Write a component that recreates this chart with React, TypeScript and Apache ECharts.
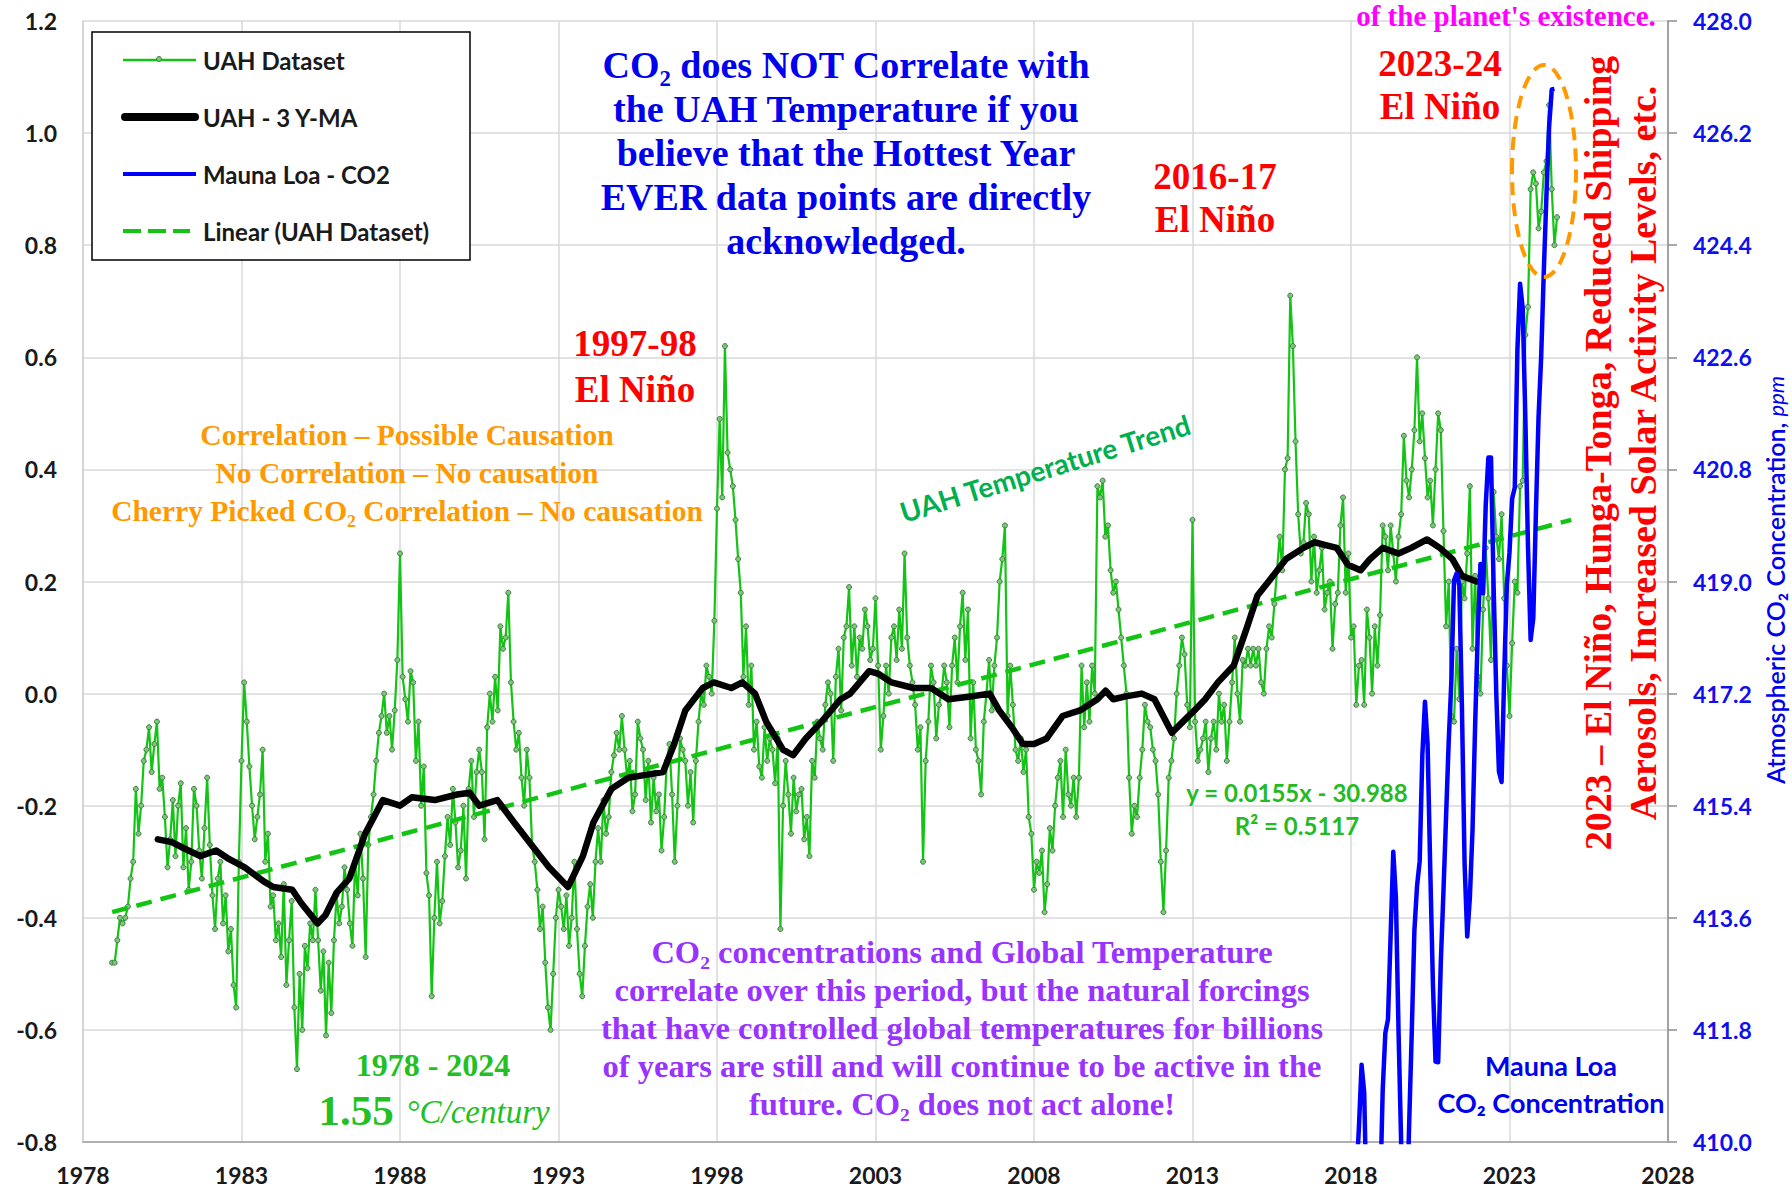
import React, { useEffect, useRef } from "react";
import * as echarts from "echarts";

// ---------- axes ----------
const xMin = 1978;
const xMax = 2028;
const xStep = 5;
const tMin = -0.8;
const tMax = 1.2;
const tStep = 0.2;
const cMin = 410;
const cMax = 428;
const cStep = 1.8;

// ---------- UAH monthly anomaly (Dec 1978 .. Jul 2024) ----------
const uahStart = 1978 + 11 / 12;
const uahMonthly = [
  -0.48,
  -0.48, -0.44, -0.40, -0.41, -0.40, -0.38, -0.33, -0.30, -0.17, -0.25, -0.20, -0.12, // 1979
  -0.10, -0.06, -0.14, -0.09, -0.05, -0.17, -0.15, -0.22, -0.31, -0.26, -0.19, -0.29, // 1980
  -0.20, -0.16, -0.31, -0.24, -0.35, -0.30, -0.17, -0.20, -0.28, -0.33, -0.24, -0.15, // 1981
  -0.27, -0.36, -0.42, -0.33, -0.30, -0.41, -0.36, -0.46, -0.42, -0.52, -0.56, -0.30, // 1982
  -0.12, 0.02, -0.05, -0.13, -0.20, -0.26, -0.22, -0.18, -0.10, -0.30, -0.25, -0.38, // 1983
  -0.36, -0.44, -0.41, -0.47, -0.34, -0.52, -0.44, -0.37, -0.56, -0.67, -0.50, -0.60, // 1984
  -0.45, -0.49, -0.41, -0.44, -0.35, -0.44, -0.53, -0.46, -0.61, -0.48, -0.57, -0.44, // 1985
  -0.36, -0.41, -0.38, -0.31, -0.35, -0.41, -0.45, -0.30, -0.36, -0.25, -0.33, -0.47, // 1986
  -0.27, -0.22, -0.18, -0.12, -0.07, -0.04, 0.00, -0.07, -0.04, -0.10, -0.03, 0.06, // 1987
  0.25, 0.03, -0.01, -0.05, 0.04, 0.02, -0.12, -0.05, -0.20, -0.13, -0.32, -0.36, // 1988
  -0.54, -0.40, -0.30, -0.41, -0.37, -0.29, -0.22, -0.27, -0.17, -0.23, -0.31, -0.28, // 1989
  -0.20, -0.33, -0.17, -0.12, -0.22, -0.14, -0.10, -0.14, -0.26, -0.06, 0.00, -0.05, // 1990
  0.03, -0.03, 0.12, 0.08, 0.10, 0.18, 0.02, -0.05, -0.10, -0.07, -0.15, -0.20, // 1991
  -0.10, -0.15, -0.27, -0.30, -0.35, -0.42, -0.38, -0.48, -0.56, -0.60, -0.50, -0.40, // 1992
  -0.35, -0.38, -0.42, -0.36, -0.45, -0.40, -0.30, -0.42, -0.50, -0.54, -0.45, -0.38, // 1993
  -0.34, -0.40, -0.30, -0.24, -0.30, -0.19, -0.25, -0.22, -0.14, -0.11, -0.07, -0.10, // 1994
  -0.04, -0.10, -0.15, -0.12, -0.21, -0.18, -0.05, -0.08, -0.10, -0.19, -0.12, -0.23, // 1995
  -0.15, -0.21, -0.18, -0.28, -0.22, -0.12, -0.09, -0.18, -0.30, -0.20, -0.08, -0.10, // 1996
  -0.12, -0.20, -0.14, -0.23, -0.12, -0.05, 0.00, -0.02, 0.05, 0.03, 0.00, 0.13, // 1997
  0.33, 0.49, 0.35, 0.62, 0.43, 0.40, 0.37, 0.31, 0.24, 0.18, 0.03, 0.12, // 1998
  -0.02, 0.05, -0.10, -0.05, -0.13, -0.15, -0.06, -0.12, -0.08, -0.10, -0.16, -0.08, // 1999
  -0.42, -0.20, -0.12, -0.18, -0.25, -0.15, -0.21, -0.18, -0.17, -0.26, -0.22, -0.29, // 2000
  -0.12, -0.15, -0.05, -0.08, -0.10, -0.02, 0.02, 0.00, -0.12, 0.03, 0.08, -0.03, // 2001
  0.10, 0.12, 0.19, 0.05, 0.12, 0.03, 0.10, 0.08, 0.15, 0.12, 0.06, 0.08, // 2002
  0.17, 0.05, -0.10, -0.04, 0.05, 0.00, 0.10, 0.12, 0.06, 0.15, 0.08, 0.25, // 2003
  0.10, 0.05, 0.02, -0.02, -0.10, -0.06, -0.30, -0.12, -0.05, 0.05, 0.02, -0.08, // 2004
  -0.02, 0.00, 0.05, 0.02, -0.06, 0.05, 0.10, 0.02, 0.12, 0.18, 0.06, 0.15, // 2005
  -0.08, 0.02, -0.10, -0.12, -0.18, -0.05, 0.00, 0.06, -0.03, 0.05, 0.10, 0.20, // 2006
  0.24, 0.30, -0.04, 0.05, -0.02, -0.10, -0.12, -0.08, -0.14, -0.10, -0.22, -0.25, // 2007
  -0.35, -0.30, -0.32, -0.28, -0.39, -0.34, -0.24, -0.28, -0.20, -0.15, -0.12, -0.22, // 2008
  -0.10, -0.18, -0.20, -0.15, -0.22, -0.15, 0.05, -0.06, 0.02, -0.05, 0.05, 0.00, // 2009
  0.37, 0.35, 0.38, 0.28, 0.30, 0.22, 0.18, 0.20, 0.15, 0.10, 0.05, 0.00, // 2010
  -0.15, -0.25, -0.20, -0.22, -0.15, -0.10, -0.02, -0.05, -0.06, -0.10, -0.12, -0.18, // 2011
  -0.30, -0.39, -0.28, -0.15, -0.12, -0.08, 0.00, 0.05, 0.10, 0.07, -0.02, -0.06, // 2012
  0.31, -0.05, -0.12, -0.10, -0.08, -0.05, -0.14, -0.08, -0.05, -0.10, 0.00, -0.05, // 2013
  -0.02, -0.12, -0.05, 0.02, 0.10, 0.00, -0.05, 0.06, 0.05, 0.08, 0.05, 0.08, // 2014
  0.05, 0.08, 0.02, 0.00, 0.08, 0.12, 0.10, 0.16, 0.22, 0.28, 0.22, 0.40, // 2015
  0.42, 0.71, 0.62, 0.45, 0.32, 0.25, 0.27, 0.34, 0.32, 0.20, 0.28, 0.18, // 2016
  0.22, 0.26, 0.15, 0.18, 0.20, 0.08, 0.16, 0.18, 0.30, 0.35, 0.18, 0.25, // 2017
  0.10, 0.12, -0.02, 0.05, 0.06, -0.02, 0.15, 0.10, 0.00, 0.12, 0.05, 0.14, // 2018
  0.30, 0.28, 0.22, 0.30, 0.25, 0.20, 0.28, 0.32, 0.46, 0.38, 0.35, 0.40, // 2019
  0.47, 0.60, 0.45, 0.50, 0.42, 0.35, 0.38, 0.30, 0.40, 0.50, 0.47, 0.29, // 2020
  0.12, 0.20, -0.04, -0.05, 0.08, -0.01, 0.20, 0.17, 0.25, 0.37, 0.08, 0.21, // 2021
  0.03, 0.00, 0.15, 0.26, 0.17, 0.06, 0.36, 0.28, 0.24, 0.32, 0.17, 0.05, // 2022
  -0.04, 0.09, 0.20, 0.18, 0.37, 0.38, 0.64, 0.69, 0.90, 0.93, 0.91, 0.83, // 2023
  0.86, 0.93, 0.95, 1.05, 0.90, 0.80, 0.85, // 2024
];

// ---------- UAH 3-year moving average ----------
const maYears = [
  1980.36, 1980.8, 1981.15, 1981.7, 1982.2, 1982.6, 1983.1, 1983.7, 1984.0, 1984.6,
  1984.9, 1985.4, 1985.65, 1986.0, 1986.4, 1986.9, 1987.46, 1988.0, 1988.37, 1989.1,
  1989.8, 1990.2, 1990.5, 1991.07, 1991.6, 1992.15, 1992.7, 1993.3, 1993.77, 1994.1,
  1994.67, 1995.2, 1995.75, 1996.3, 1996.65, 1997.0, 1997.55, 1997.9, 1998.45, 1998.8,
  1999.2, 1999.55, 2000.08, 2000.4, 2000.8, 2001.3, 2001.9, 2002.2, 2002.8, 2003.1,
  2003.5, 2004.2, 2004.75, 2005.3, 2006.0, 2006.6, 2006.9, 2007.3, 2007.65, 2008.0,
  2008.4, 2008.9, 2009.45, 2010.0, 2010.26, 2010.5, 2010.9, 2011.4, 2011.8, 2012.35,
  2012.7, 2013.06, 2013.4, 2013.8, 2014.3, 2014.7, 2015.05, 2015.4, 2015.95, 2016.5,
  2016.85, 2017.2, 2017.55, 2017.9, 2018.3, 2018.6, 2019.0, 2019.5, 2019.9, 2020.4,
  2020.8, 2021.2, 2021.5, 2021.96,
];
const maValues = [
  -0.26, -0.265, -0.275, -0.29, -0.28, -0.295, -0.31, -0.335, -0.345, -0.35,
  -0.375, -0.41, -0.395, -0.355, -0.33, -0.25, -0.19, -0.2, -0.185, -0.19,
  -0.18, -0.177, -0.2, -0.19, -0.23, -0.27, -0.31, -0.345, -0.29, -0.23,
  -0.17, -0.15, -0.145, -0.14, -0.09, -0.03, 0.01, 0.02, 0.01, 0.02,
  0.0, -0.05, -0.1, -0.11, -0.08, -0.05, -0.01, 0.0, 0.04, 0.035,
  0.02, 0.01, 0.01, -0.01, -0.005, 0.0, -0.03, -0.06, -0.09, -0.09,
  -0.08, -0.04, -0.03, -0.01, 0.005, -0.01, -0.005, 0.0, -0.01, -0.07,
  -0.05, -0.03, -0.01, 0.02, 0.05, 0.115, 0.175, 0.2, 0.24, 0.26,
  0.27, 0.265, 0.26, 0.23, 0.22, 0.24, 0.26, 0.25, 0.26, 0.275,
  0.26, 0.24, 0.21, 0.2,
];

// ---------- Mauna Loa monthly CO2 (Jan 2018 .. Jun 2024) ----------
const co2Start = 2018;
const co2Monthly = [
  407.96, 408.32, 409.41, 410.24, 411.24, 410.79, 408.71, 406.99, 405.51, 405.95, 408.02, 409.07, // 2018
  410.83, 411.75, 411.97, 413.32, 414.66, 413.92, 411.77, 409.95, 408.54, 408.53, 410.27, 411.76, // 2019
  413.4, 414.11, 414.51, 416.21, 417.07, 416.38, 414.38, 412.55, 411.29, 411.28, 412.89, 414.02, // 2020
  415.24, 416.45, 417.41, 419.02, 419.13, 418.94, 416.96, 414.47, 413.3, 413.93, 415.01, 416.71, // 2021
  418.19, 419.28, 418.81, 420.23, 420.99, 420.99, 418.9, 417.19, 415.95, 415.78, 417.51, 418.95, // 2022
  419.47, 420.33, 420.51, 422.73, 423.78, 423.39, 421.62, 419.56, 418.06, 418.41, 420.11, 421.65, // 2023
  422.62, 424.0, 425.22, 426.31, 426.9, 426.91, // 2024
];

// ---------- Linear trend endpoints ----------
const trendYears = [1978.92, 2024.95];
const trendValues = [-0.39, 0.31];

const legendNames = ["UAH Dataset", "UAH - 3 Y-MA", "Mauna Loa - CO2", "Linear (UAH Dataset)"];

const SERIF = '"Liberation Serif", "Times New Roman", serif';
const SANS = 'Lato, "Open Sans", sans-serif';

export default function App() {
  const ref = useRef<HTMLDivElement>(null);

  useEffect(() => {
    if (!ref.current) return;
    const chart = echarts.init(ref.current, null, { renderer: "svg" });

    const uahData = uahMonthly.map((v, i) => [uahStart + i / 12, v]);
    const maData = maYears.map((y, i) => [y, maValues[i]]);
    const co2Data = co2Monthly.map((v, i) => [co2Start + i / 12, v]);
    const trendData = trendYears.map((y, i) => [y, trendValues[i]]);

    const legendRows = [60, 117, 174, 231];
    const lx1 = 123;
    const lx2 = 196;

    const serifText = (
      text: string,
      x: number,
      y: number,
      fill: string,
      fontSize: number,
      lineHeight?: number,
      extra: any = {}
    ) => ({
      type: "text",
      x,
      y,
      z: 50,
      style: {
        text,
        fill,
        fontFamily: SERIF,
        fontWeight: "bold",
        fontSize,
        lineHeight: lineHeight || fontSize * 1.2,
        align: "center",
        verticalAlign: "middle",
        ...extra,
      },
    });

    const option: any = {
      animation: false,
      backgroundColor: "#ffffff",
      grid: { left: 83, right: 124, top: 21, bottom: 55, containLabel: false },
      xAxis: {
        type: "value",
        min: xMin,
        max: xMax,
        interval: xStep,
        axisLine: { show: true, onZero: false, lineStyle: { color: "#b0b0b0", width: 2 } },
        axisTick: { show: false },
        axisLabel: {
          margin: 21,
          color: "#1a1a1a",
          fontFamily: SANS,
          fontWeight: "bold",
          fontSize: 23,
          formatter: (v: number) => String(Math.round(v)),
        },
        splitLine: { show: true, lineStyle: { color: "#d9d9d9", width: 1.5 } },
      },
      yAxis: [
        {
          type: "value",
          min: tMin,
          max: tMax,
          interval: tStep,
          position: "left",
          axisLine: { show: true, onZero: false, lineStyle: { color: "#d0d0d0", width: 1.5 } },
          axisTick: { show: false },
          axisLabel: {
            margin: 26,
            color: "#1a1a1a",
            fontFamily: SANS,
            fontWeight: "bold",
            fontSize: 23,
            formatter: (v: number) => v.toFixed(1),
          },
          splitLine: { show: true, lineStyle: { color: "#d9d9d9", width: 1.5 } },
        },
        {
          type: "value",
          min: cMin,
          max: cMax,
          interval: cStep,
          position: "right",
          axisLine: { show: true, onZero: false, lineStyle: { color: "#8c8c8c", width: 1.5 } },
          axisTick: { show: true, length: 9, lineStyle: { color: "#8c8c8c", width: 1.5 } },
          axisLabel: {
            margin: 25,
            color: "#1010ee",
            fontFamily: SANS,
            fontWeight: "bold",
            fontSize: 23,
            formatter: (v: number) => v.toFixed(1),
          },
          splitLine: { show: false },
        },
      ],
      series: [
        {
          name: legendNames[0],
          type: "line",
          data: uahData,
          yAxisIndex: 0,
          showSymbol: true,
          showAllSymbol: true,
          symbol: "circle",
          symbolSize: 5,
          itemStyle: { color: "#7cc67c", borderColor: "#3c7f3c", borderWidth: 1 },
          lineStyle: { color: "#14c414", width: 2.2 },
          z: 2,
        },
        {
          name: legendNames[3],
          type: "line",
          data: trendData,
          yAxisIndex: 0,
          showSymbol: false,
          lineStyle: { color: "#14c414", width: 4.5, type: [16, 9] },
          z: 3,
        },
        {
          name: legendNames[1],
          type: "line",
          data: maData,
          yAxisIndex: 0,
          showSymbol: false,
          lineStyle: { color: "#000000", width: 6.5, cap: "round", join: "round" },
          z: 4,
        },
        {
          name: legendNames[2],
          type: "line",
          data: co2Data,
          yAxisIndex: 1,
          showSymbol: false,
          clip: true,
          lineStyle: { color: "#0000ff", width: 4.5, join: "round" },
          z: 5,
        },
      ],
      graphic: [
        // legend box
        {
          type: "rect",
          z: 60,
          shape: { x: 92, y: 32, width: 378, height: 228 },
          style: { fill: "#ffffff", stroke: "#000000", lineWidth: 1.5 },
        },
        {
          type: "line",
          z: 61,
          shape: { x1: lx1, y1: legendRows[0], x2: lx2, y2: legendRows[0] },
          style: { stroke: "#14c414", lineWidth: 2.5 },
        },
        {
          type: "circle",
          z: 62,
          shape: { cx: 159, cy: legendRows[0] - 1, r: 2.5 },
          style: { fill: "#7cc67c", stroke: "#3c7f3c", lineWidth: 1 },
        },
        {
          type: "line",
          z: 61,
          shape: { x1: lx1 + 2, y1: legendRows[1], x2: lx2 - 1, y2: legendRows[1] },
          style: { stroke: "#000000", lineWidth: 8, lineCap: "round" },
        },
        {
          type: "line",
          z: 61,
          shape: { x1: lx1, y1: legendRows[2], x2: lx2, y2: legendRows[2] },
          style: { stroke: "#0000ff", lineWidth: 4 },
        },
        {
          type: "line",
          z: 61,
          shape: { x1: lx1, y1: legendRows[3], x2: lx2 - 6, y2: legendRows[3] },
          style: { stroke: "#14c414", lineWidth: 4, lineDash: [18, 7] },
        },
        ...legendNames.map((name, i) => ({
          type: "text",
          z: 62,
          x: 203,
          y: legendRows[i],
          style: {
            text: name,
            fill: "#1a1a1a",
            fontFamily: SANS,
            fontWeight: "bold",
            fontSize: 24,
            align: "left",
            verticalAlign: "middle",
          },
        })),

        // top magenta fragment
        serifText("of the planet's existence.", 1506, 16, "#ff00ff", 29),

        // blue headline
        serifText(
          "CO₂ does NOT Correlate with\nthe UAH Temperature if you\nbelieve that the Hottest Year\nEVER data points are directly\nacknowledged.",
          846,
          153,
          "#0000ee",
          38,
          44
        ),

        // El Nino labels
        serifText("1997-98\nEl Niño", 635, 366, "#ff0000", 37, 46),
        serifText("2016-17\nEl Niño", 1215, 198, "#ff0000", 37, 43),
        serifText("2023-24\nEl Niño", 1440, 85, "#ff0000", 37, 43),

        // orange correlation lines
        serifText(
          "Correlation – Possible Causation\nNo Correlation – No causation\nCherry Picked CO₂ Correlation – No causation",
          407,
          473,
          "#ff9900",
          29.5,
          38
        ),

        // trend label
        {
          type: "text",
          z: 50,
          x: 1045,
          y: 468,
          rotation: (17.2 * Math.PI) / 180,
          style: {
            text: "UAH Temperature Trend",
            fill: "#00b050",
            fontFamily: SANS,
            fontWeight: "bold",
            fontSize: 28,
            align: "center",
            verticalAlign: "middle",
          },
        },

        // regression equation
        {
          type: "text",
          z: 50,
          x: 1297,
          y: 809,
          style: {
            text: "y = 0.0155x - 30.988\nR² = 0.5117",
            fill: "#22bb22",
            fontFamily: SANS,
            fontWeight: "bold",
            fontSize: 24,
            lineHeight: 33,
            align: "center",
            verticalAlign: "middle",
          },
        },

        // 1978 - 2024 rate
        serifText("1978 - 2024", 433, 1065, "#22c022", 32),
        serifText("1.55", 356, 1110, "#22c022", 43),
        serifText("°C/century", 478, 1112, "#22c022", 33, undefined, {
          fontStyle: "italic",
          fontWeight: "normal",
        }),

        // purple paragraph
        serifText(
          "CO₂ concentrations and Global Temperature\ncorrelate over this period, but the natural forcings\nthat have controlled global temperatures for billions\nof years are still and will continue to be active in the\nfuture. CO₂ does not act alone!",
          962,
          1028,
          "#9933ff",
          32.5,
          38
        ),

        // Mauna Loa label
        {
          type: "text",
          z: 50,
          x: 1551,
          y: 1084,
          style: {
            text: "Mauna Loa\nCO₂ Concentration",
            fill: "#0000ee",
            fontFamily: SANS,
            fontWeight: "bold",
            fontSize: 27,
            lineHeight: 37,
            align: "center",
            verticalAlign: "middle",
          },
        },

        // vertical red text
        {
          type: "text",
          z: 50,
          x: 1620,
          y: 453,
          rotation: Math.PI / 2,
          style: {
            text: "2023 – El Niño, Hunga-Tonga, Reduced Shipping\nAerosols, Increased Solar Activity Levels, etc.",
            fill: "#ff0000",
            fontFamily: SERIF,
            fontWeight: "bold",
            fontSize: 38,
            lineHeight: 45,
            align: "center",
            verticalAlign: "middle",
          },
        },

        // right axis title
        {
          type: "text",
          z: 50,
          x: 1775,
          y: 580,
          rotation: Math.PI / 2,
          style: {
            text: "{a|Atmospheric CO₂ Concentration, }{b|ppm}",
            align: "center",
            verticalAlign: "middle",
            rich: {
              a: { fill: "#0000ee", fontFamily: SANS, fontSize: 25, fontWeight: 600 },
              b: { fill: "#0000ee", fontFamily: SANS, fontSize: 22, fontStyle: "italic" },
            },
          },
        },

        // orange dashed ellipse
        {
          type: "ellipse",
          z: 40,
          shape: { cx: 1544, cy: 171, rx: 32, ry: 106 },
          style: { fill: "transparent", stroke: "#ff9900", lineWidth: 4, lineDash: [13, 8] },
        },
      ],
    };

    chart.setOption(option);
    return () => chart.dispose();
  }, []);

  return (
    <div
      ref={ref}
      style={{ position: "absolute", left: 0, top: 0, width: 1792, height: 1197, background: "#fff" }}
    />
  );
}
